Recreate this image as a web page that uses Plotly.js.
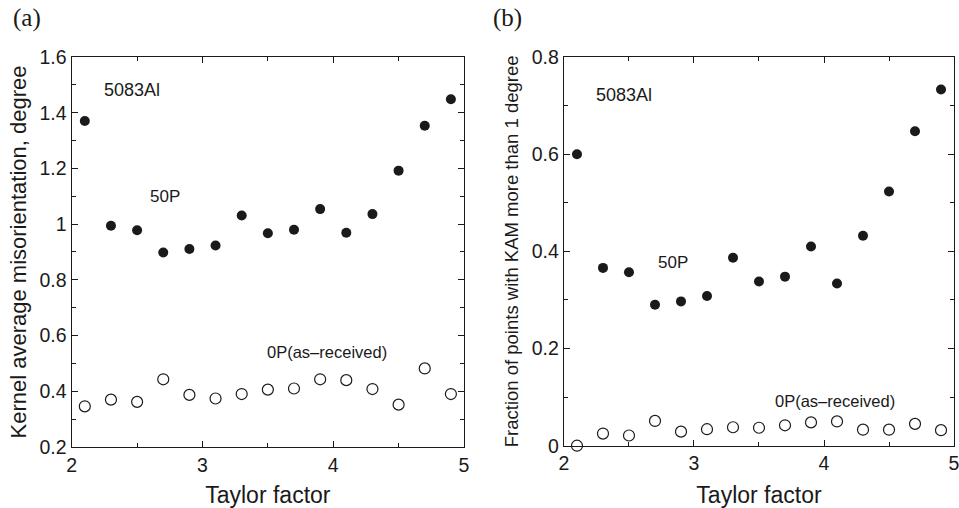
<!DOCTYPE html>
<html>
<head>
<meta charset="utf-8">
<script src="https://cdn.plot.ly/plotly-3.0.1.min.js"></script>
<style>html,body{margin:0;padding:0;background:#fff;}#chart{width:959px;height:508px;}</style>
</head>
<body>
<div id="chart"></div>
<script>
// Taylor factor bins
const taylor = [2.1, 2.3, 2.5, 2.7, 2.9, 3.1, 3.3, 3.5, 3.7, 3.9, 4.1, 4.3, 4.5, 4.7, 4.9];
// (a) Kernel average misorientation, degree
const kam50P = [1.37, 0.994, 0.978, 0.898, 0.911, 0.923, 1.031, 0.967, 0.98, 1.054, 0.969, 1.036, 1.192, 1.353, 1.448];
const kam0P  = [0.346, 0.37, 0.362, 0.443, 0.387, 0.374, 0.39, 0.406, 0.41, 0.443, 0.44, 0.408, 0.352, 0.482, 0.39];
// (b) Fraction of points with KAM more than 1 degree
const frac50P = [0.60, 0.366, 0.357, 0.29, 0.297, 0.308, 0.387, 0.338, 0.348, 0.41, 0.334, 0.432, 0.523, 0.647, 0.733];
const frac0P  = [0.0, 0.025, 0.021, 0.051, 0.029, 0.034, 0.038, 0.037, 0.042, 0.048, 0.05, 0.033, 0.033, 0.045, 0.032];

const FONT = '"Liberation Sans", Arial, Helvetica, sans-serif';
const SERIF = '"Liberation Serif", "Times New Roman", serif';
const INK = '#1a1a1a';

const filled = {symbol: 'circle', size: 10, color: INK};
const open = {symbol: 'circle-open', size: 11, color: INK, line: {width: 1.2, color: INK}};

const traces = [
  {x: taylor, y: kam50P, mode: 'markers', marker: filled, xaxis: 'x', yaxis: 'y', cliponaxis: false, name: '50P'},
  {x: taylor, y: kam0P, mode: 'markers', marker: open, xaxis: 'x', yaxis: 'y', cliponaxis: false, name: '0P'},
  {x: taylor, y: frac50P, mode: 'markers', marker: filled, xaxis: 'x2', yaxis: 'y2', cliponaxis: false, name: '50P'},
  {x: taylor, y: frac0P, mode: 'markers', marker: open, xaxis: 'x2', yaxis: 'y2', cliponaxis: false, name: '0P'}
];

function xAxis(domain, anchor) {
  return {
    domain: domain, anchor: anchor, range: [2, 5], dtick: 1, tick0: 2,
    ticks: 'inside', ticklen: 6, tickwidth: 1, tickcolor: INK,
    minor: {dtick: 0.5, ticks: 'inside', ticklen: 4, tickcolor: INK},
    showline: true, linecolor: INK, linewidth: 1.2, mirror: 'ticks',
    showgrid: false, zeroline: false, ticklabeloverflow: 'allow',
    tickfont: {family: FONT, size: 19.5, color: INK},
    title: {text: 'Taylor factor', font: {family: FONT, size: 23, color: INK}, standoff: 14}
  };
}
function yAxis(domain, anchor, range, dtick, minor, title, tsize, standoff) {
  return {
    domain: domain, anchor: anchor, range: range, dtick: dtick, tick0: 0,
    ticks: 'inside', ticklen: 6, tickwidth: 1, tickcolor: INK,
    minor: {dtick: minor, ticks: 'inside', ticklen: 4, tickcolor: INK},
    showline: true, linecolor: INK, linewidth: 1.2, mirror: 'ticks',
    showgrid: false, zeroline: false, ticklabeloverflow: 'allow',
    tickfont: {family: FONT, size: 19.5, color: INK},
    title: {text: title, font: {family: FONT, size: tsize, color: INK}, standoff: standoff}
  };
}

const layout = {
  width: 959, height: 508,
  margin: {l: 0, r: 0, t: 0, b: 0},
  paper_bgcolor: '#fff', plot_bgcolor: '#fff',
  showlegend: false,
  xaxis: xAxis([0.0748, 0.4838], 'y'),
  yaxis: yAxis([0.1201, 0.8878], 'x', [0.2, 1.6], 0.2, 0.1, 'Kernel average misorientation, degree', 22, 6),
  xaxis2: xAxis([0.5881, 0.9948], 'y2'),
  yaxis2: yAxis([0.1226, 0.8878], 'x2', [0, 0.8], 0.2, 0.1, 'Fraction of points with KAM more than 1 degree', 18.5, 8),
  annotations: [
    {text: '(a)', xref: 'paper', yref: 'paper', x: 11/959, y: 1 - 18/508, xanchor: 'left', yanchor: 'middle', showarrow: false, font: {family: SERIF, size: 25, color: INK}},
    {text: '(b)', xref: 'paper', yref: 'paper', x: 491/959, y: 1 - 18/508, xanchor: 'left', yanchor: 'middle', showarrow: false, font: {family: SERIF, size: 25, color: INK}},
    {text: '5083Al', xref: 'x', yref: 'y', x: 2.23, y: 1.48, xanchor: 'left', yanchor: 'middle', showarrow: false, font: {family: FONT, size: 18, color: INK}},
    {text: '50P', xref: 'x', yref: 'y', x: 2.58, y: 1.10, xanchor: 'left', yanchor: 'middle', showarrow: false, font: {family: FONT, size: 17, color: INK}},
    {text: '0P(as\u2013received)', xref: 'x', yref: 'y', x: 3.48, y: 0.54, xanchor: 'left', yanchor: 'middle', showarrow: false, font: {family: FONT, size: 16.5, color: INK}},
    {text: '5083Al', xref: 'x2', yref: 'y2', x: 2.23, y: 0.722, xanchor: 'left', yanchor: 'middle', showarrow: false, font: {family: FONT, size: 18, color: INK}},
    {text: '50P', xref: 'x2', yref: 'y2', x: 2.705, y: 0.377, xanchor: 'left', yanchor: 'middle', showarrow: false, font: {family: FONT, size: 17, color: INK}},
    {text: '0P(as\u2013received)', xref: 'x2', yref: 'y2', x: 3.61, y: 0.093, xanchor: 'left', yanchor: 'middle', showarrow: false, font: {family: FONT, size: 16.5, color: INK}}
  ]
};

Plotly.newPlot('chart', traces, layout, {displayModeBar: false, staticPlot: true});
</script>
</body>
</html>
